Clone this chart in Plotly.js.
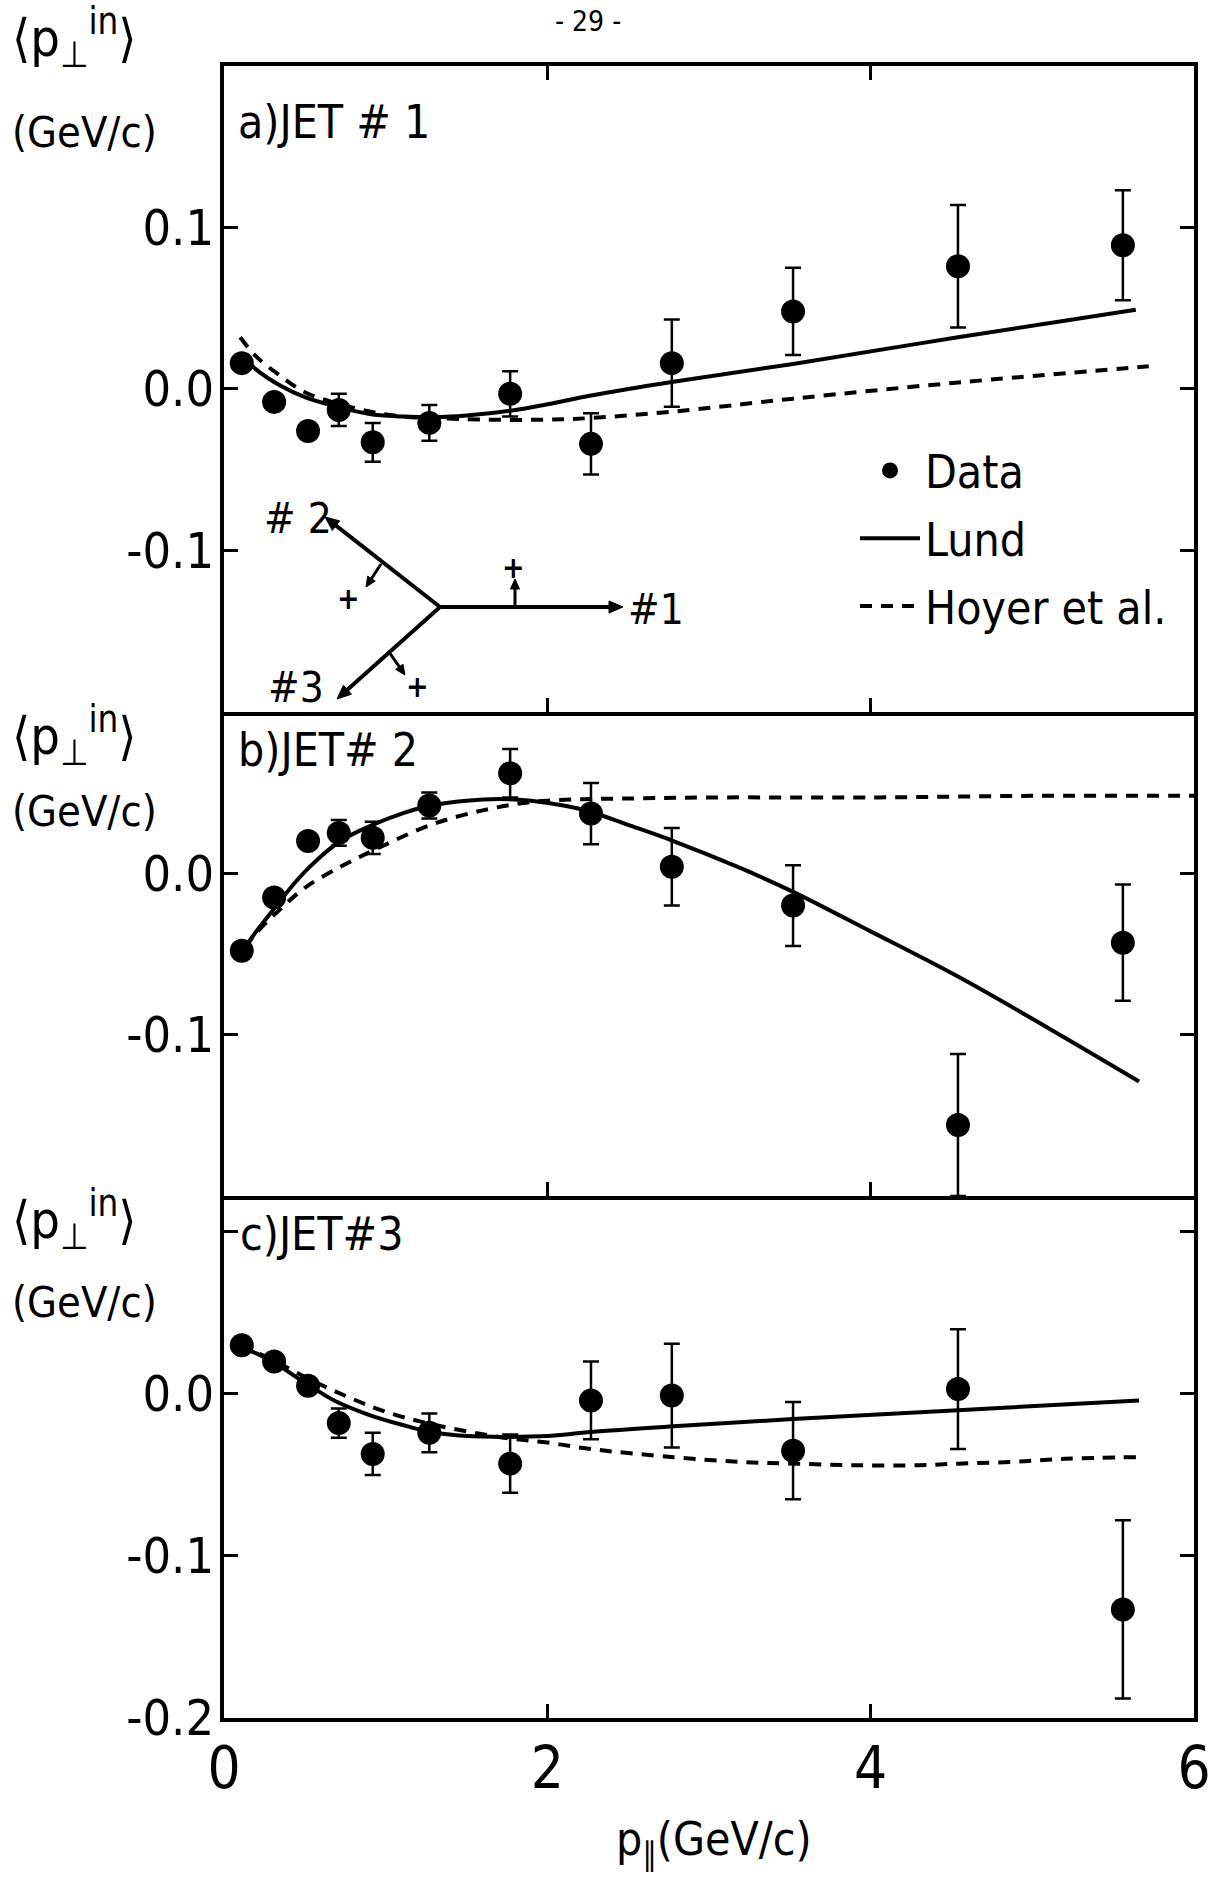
<!DOCTYPE html>
<html><head><meta charset="utf-8">
<script src="https://cdn.plot.ly/plotly-3.0.1.min.js"></script>
<style>html,body{margin:0;padding:0;background:#fff}</style>
</head><body><div id="chart" style="width:1218px;height:1881px"></div>
<script>
// ---- data ----
const pPar = [0.11, 0.31, 0.52, 0.71, 0.92, 1.27, 1.77, 2.27, 2.77, 3.52, 4.54, 5.56];

const jet1Data = [0.016, -0.008, -0.026, -0.013, -0.033, -0.021, -0.003, -0.034, 0.016, 0.048, 0.076, 0.089];
const jet1Err  = [0.004, 0.004, 0.005, 0.010, 0.012, 0.011, 0.014, 0.019, 0.027, 0.027, 0.038, 0.034];
const jet2Data = [-0.048, -0.015, 0.020, 0.025, 0.022, 0.042, 0.062, 0.037, 0.004, -0.020, -0.156, -0.043];
const jet2Err  = [0.004, 0.004, 0.004, 0.008, 0.010, 0.008, 0.015, 0.019, 0.024, 0.025, 0.044, 0.036];
const jet3Data = [0.030, 0.020, 0.005, -0.018, -0.037, -0.024, -0.043, -0.004, -0.001, -0.035, 0.003, -0.133];
const jet3Err  = [0.004, 0.004, 0.004, 0.009, 0.013, 0.012, 0.018, 0.024, 0.032, 0.030, 0.037, 0.055];

const lund1X = [0.10, 0.20, 0.35, 0.50, 0.70, 0.90, 1.10, 1.30, 1.50, 1.77, 2.00, 2.27, 2.78, 3.52, 4.54, 5.64];
const lund1Y = [0.022, 0.012, 0.002, -0.005, -0.011, -0.0155, -0.017, -0.0175, -0.0165, -0.0135, -0.0095, -0.0040, 0.0045, 0.0155, 0.032, 0.049];
const hoyer1X = [0.10, 0.20, 0.35, 0.50, 0.70, 0.90, 1.10, 1.30, 1.60, 2.00, 2.27, 2.78, 3.52, 4.54, 5.72];
const hoyer1Y = [0.032, 0.020, 0.008, -0.002, -0.009, -0.014, -0.017, -0.018, -0.019, -0.019, -0.018, -0.014, -0.006, 0.004, 0.014];

const lund2X = [0.10, 0.20, 0.31, 0.42, 0.53, 0.72, 0.92, 1.10, 1.28, 1.50, 1.70, 1.90, 2.10, 2.27, 2.50, 2.78, 3.20, 3.52, 4.00, 4.54, 5.10, 5.66];
const lund2Y = [-0.050, -0.036, -0.022, -0.008, 0.004, 0.020, 0.030, 0.037, 0.042, 0.045, 0.046, 0.045, 0.042, 0.038, 0.030, 0.020, 0.003, -0.0115, -0.036, -0.064, -0.096, -0.129];
const hoyer2X = [0.13, 0.20, 0.34, 0.50, 0.72, 0.92, 1.28, 1.60, 1.85, 2.00, 2.27, 2.60, 3.00, 4.00, 5.00, 6.00];
const hoyer2Y = [-0.046, -0.037, -0.023, -0.009, 0.004, 0.014, 0.030, 0.039, 0.0435, 0.045, 0.046, 0.0465, 0.047, 0.047, 0.048, 0.048];

const lund3X = [0.10, 0.20, 0.30, 0.50, 0.70, 0.90, 1.10, 1.28, 1.50, 1.75, 2.00, 2.27, 2.78, 3.52, 4.54, 5.66];
const lund3Y = [0.029, 0.025, 0.020, 0.007, -0.005, -0.013, -0.019, -0.0235, -0.026, -0.0265, -0.026, -0.0235, -0.020, -0.0155, -0.010, -0.004];
const hoyer3X = [0.10, 0.30, 0.53, 0.77, 1.00, 1.30, 1.73, 2.00, 2.27, 2.78, 3.20, 3.52, 3.90, 4.30, 4.54, 4.87, 5.20, 5.66];
const hoyer3Y = [0.030, 0.021, 0.009, -0.002, -0.011, -0.019, -0.027, -0.030, -0.034, -0.039, -0.042, -0.043, -0.044, -0.044, -0.043, -0.042, -0.040, -0.039];

const xTickVals = [0, 2, 4, 6];
const xTickText = ['0', '2', '4', '6'];
// ------------------------------------

const FONT = 'Liberation Sans Narrow, DejaVu Sans Condensed, Liberation Sans, Arial, sans-serif';
const L = 224, R = 1194, T = 66, B = 1718;
const px = p => (p - L) / (R - L);
const py = p => (B - p) / (B - T);

function dataTrace(y, err, xa, ya, show) {
  return {x: pPar, y: y, type: 'scatter', mode: 'markers', name: 'Data', legendgroup: 'd',
    showlegend: show, xaxis: xa, yaxis: ya,
    marker: {color: 'black', size: 24},
    error_y: {type: 'data', array: err, visible: true, color: 'black', thickness: 2.5, width: 8}};
}
function lineTrace(x, y, name, dash, xa, ya, show) {
  return {x: x, y: y, type: 'scatter', mode: 'lines', name: name, legendgroup: name,
    showlegend: show, xaxis: xa, yaxis: ya,
    line: {color: 'black', width: 4, dash: dash, shape: 'spline', smoothing: 1}};
}

const traces = [
  dataTrace(jet1Data, jet1Err, 'x', 'y', true),
  lineTrace(lund1X, lund1Y, 'Lund', 'solid', 'x', 'y', true),
  lineTrace(hoyer1X, hoyer1Y, 'Hoyer et al.', '12px,9px', 'x', 'y', true),
  lineTrace(lund2X, lund2Y, 'Lund', 'solid', 'x2', 'y2', false),
  lineTrace(hoyer2X, hoyer2Y, 'Hoyer et al.', '12px,9px', 'x2', 'y2', false),
  dataTrace(jet2Data, jet2Err, 'x2', 'y2', false),
  lineTrace(lund3X, lund3Y, 'Lund', 'solid', 'x3', 'y3', false),
  lineTrace(hoyer3X, hoyer3Y, 'Hoyer et al.', '12px,9px', 'x3', 'y3', false),
  dataTrace(jet3Data, jet3Err, 'x3', 'y3', false)
];

const axBase = {showline: true, linewidth: 4, linecolor: 'black', ticks: 'inside', ticklen: 14,
  tickwidth: 3, tickcolor: 'black', showgrid: false, zeroline: false, fixedrange: true};

const xa = (anchor, mirror, labels) => Object.assign({}, axBase, {
  anchor: anchor, range: [0, 6], mirror: mirror, tickmode: 'array', tickvals: xTickVals,
  ticktext: xTickText, showticklabels: labels, ticklabelstandoff: -4,
  tickfont: {family: FONT, size: 58, color: 'black'}});
const ya = (anchor, domain, range, vals, text) => Object.assign({}, axBase, {
  anchor: anchor, domain: domain, range: range, mirror: 'ticks', tickmode: 'array',
  tickvals: vals, ticktext: text, ticklabelstandoff: -4,
  tickfont: {family: FONT, size: 50, color: 'black'}});

const dA = [0.6090, 1], dB = [0.3160, 0.6090], dC = [0, 0.3160];

const txt = (x, y, text, size, xanchor) => ({xref: 'paper', yref: 'paper', x: px(x), y: py(y),
  text: text, showarrow: false, xanchor: xanchor || 'left', yanchor: 'middle',
  font: {family: FONT, size: size, color: 'black'}});

// jet-diagram arrows drawn as shapes (line + filled head), positions in page pixels
function arrowShapes(x0, y0, x1, y1, w, hl, hw) {
  const dx = x1 - x0, dy = y1 - y0, len = Math.hypot(dx, dy);
  const ux = dx / len, uy = dy / len, nx = -uy, ny = ux;
  const bx = x1 - ux * hl, by = y1 - uy * hl;
  const P = (x, y) => px(x).toFixed(5) + ',' + py(y).toFixed(5);
  return [
    {type: 'line', xref: 'paper', yref: 'paper', x0: px(x0), y0: py(y0), x1: px(bx + ux * 2), y1: py(by + uy * 2),
     line: {color: 'black', width: w}},
    {type: 'path', xref: 'paper', yref: 'paper', fillcolor: 'black', line: {color: 'black', width: 1},
     path: 'M' + P(x1, y1) + 'L' + P(bx + nx * hw, by + ny * hw) + 'L' + P(bx - nx * hw, by - ny * hw) + 'Z'}
  ];
}
const shapes = [].concat(
  arrowShapes(440, 607, 623, 607, 4, 14, 6),
  arrowShapes(440, 607, 325, 517, 4, 14, 6),
  arrowShapes(440, 607, 337, 699, 4, 14, 6),
  arrowShapes(515, 607, 515, 579, 3, 10, 4.5),
  arrowShapes(381, 564, 366, 587, 3, 10, 4.5),
  arrowShapes(389, 652, 405, 675, 3, 10, 4.5)
);

const pLabel = '⟨p<sub>⊥</sub><sup>in</sup>⟩';
const annotations = [
  txt(588, 22, '- 29 -', 28, 'center'),
  txt(10, 38, pLabel, 52), txt(10, 132, '(GeV/c)', 43),
  txt(10, 736, pLabel, 52), txt(10, 811, '(GeV/c)', 43),
  txt(10, 1220, pLabel, 52), txt(10, 1302, '(GeV/c)', 43),
  txt(236, 122, 'a)JET # 1', 46), txt(236, 750, 'b)JET# 2', 46), txt(238, 1234, 'c)JET#3', 46),
  txt(714, 1842, 'p<sub>∥</sub>(GeV/c)', 46, 'center'),
  txt(513, 567, '<b>+</b>', 30, 'center'), txt(348, 598, '<b>+</b>', 30, 'center'), txt(417, 686, '<b>+</b>', 30, 'center'),
  txt(626, 609, '#1', 42), txt(262, 518, '# 2', 42), txt(266, 687, '#3', 42)
];

const layout = {
  width: 1218, height: 1881, margin: {l: L, r: 1218 - R, t: T, b: 1881 - B, pad: 0},
  paper_bgcolor: 'white', plot_bgcolor: 'white',
  font: {family: FONT, color: 'black'},
  xaxis: xa('y', 'ticks', false),
  xaxis2: xa('y2', false, false),
  xaxis3: xa('y3', false, true),
  yaxis: ya('x', dA, [-0.2, 0.2], [-0.1, 0, 0.1], ['-0.1', '0.0', '0.1']),
  yaxis2: ya('x2', dB, [-0.2, 0.1], [-0.1, 0], ['-0.1', '0.0']),
  yaxis3: Object.assign(ya('x3', dC, [-0.2, 0.1222], [-0.2, -0.1, 0], ['-0.2', '-0.1', '0.0']),
    {minor: {tickmode: 'array', tickvals: [0.1], ticks: 'inside', ticklen: 14, tickwidth: 3, tickcolor: 'black', showgrid: false}}),
  showlegend: true,
  legend: {x: px(855), y: py(434), xanchor: 'left', yanchor: 'top', bgcolor: 'rgba(0,0,0,0)',
    font: {family: FONT, size: 46, color: 'black'}, traceorder: 'grouped', tracegroupgap: 5, itemwidth: 60},
  shapes: shapes,
  annotations: annotations
};

Plotly.newPlot('chart', traces, layout, {staticPlot: true, displayModeBar: false});
</script></body></html>
